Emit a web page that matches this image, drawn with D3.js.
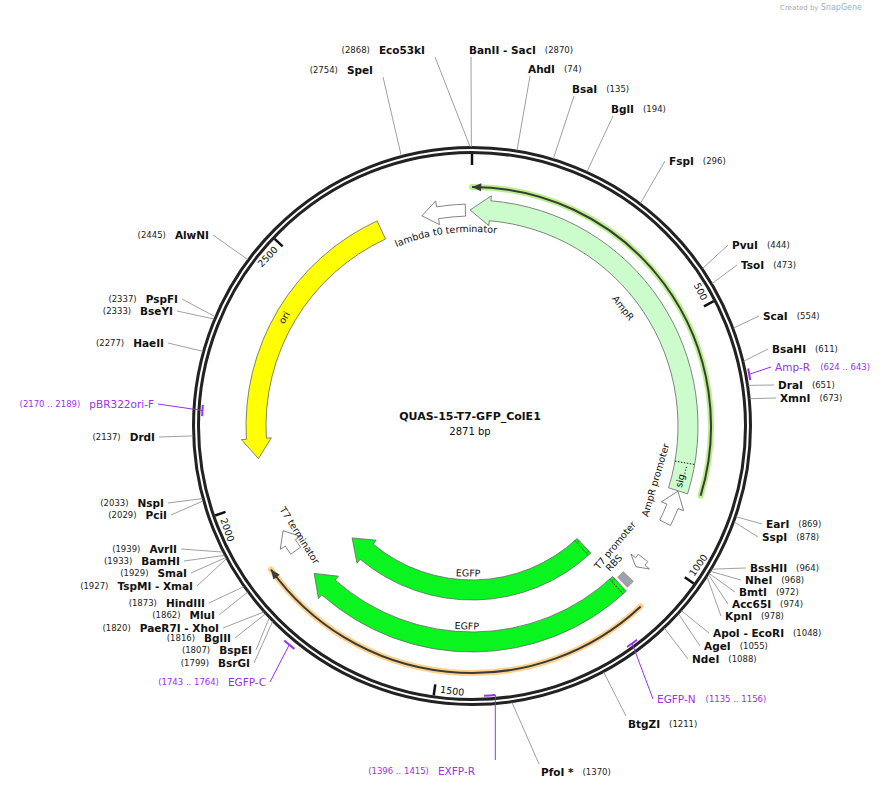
<!DOCTYPE html>
<html><head><meta charset="utf-8">
<script src="https://cdn.jsdelivr.net/npm/d3@7"></script>
<style>body{margin:0;background:#fff}text{font-family:"DejaVu Sans",Verdana,sans-serif}</style>
</head><body>
<svg id="mainsvg" width="895" height="788"></svg>
<script>
const plasmidName = 'QUAS-15-T7-GFP_ColE1'
const totalBp = 2871

// [name, pos, side, x, y]  (x = name start for right side, name end for left side)
const enzymes = [
  ['BanII - SacI', 2870, 'r', 469, 50], ['AhdI', 74, 'r', 528, 69], ['BsaI', 135, 'r', 572, 89],
  ['BglI', 194, 'r', 611, 109], ['FspI', 296, 'r', 669, 161], ['PvuI', 444, 'r', 732, 245],
  ['TsoI', 473, 'r', 741, 265], ['ScaI', 554, 'r', 763, 316], ['BsaHI', 611, 'r', 772, 349],
  ['DraI', 651, 'r', 778, 385], ['XmnI', 673, 'r', 780, 398], ['EarI', 869, 'r', 766, 524],
  ['SspI', 878, 'r', 762, 537], ['BssHII', 964, 'r', 750, 568], ['NheI', 968, 'r', 745, 580],
  ['BmtI', 972, 'r', 739, 592], ['Acc65I', 974, 'r', 732, 604], ['KpnI', 978, 'r', 725, 616],
  ['ApoI - EcoRI', 1048, 'r', 713, 633], ['AgeI', 1055, 'r', 704, 646], ['NdeI', 1088, 'r', 692, 659],
  ['BtgZI', 1211, 'r', 628, 724], ['PfoI *', 1370, 'r', 541, 772],
  ['Eco53kI', 2868, 'l', 425, 50], ['SpeI', 2754, 'l', 373, 70], ['AlwNI', 2445, 'l', 209, 235],
  ['PspFI', 2337, 'l', 178, 299], ['BseYI', 2333, 'l', 173, 311], ['HaeII', 2277, 'l', 164, 343],
  ['DrdI', 2137, 'l', 155, 437], ['NspI', 2033, 'l', 164, 503], ['PciI', 2029, 'l', 167, 515],
  ['AvrII', 1939, 'l', 177, 549], ['BamHI', 1933, 'l', 180, 561], ['SmaI', 1929, 'l', 187, 573],
  ['TspMI - XmaI', 1927, 'l', 193, 586], ['HindIII', 1873, 'l', 205, 603], ['MluI', 1862, 'l', 215, 615],
  ['PaeR7I - XhoI', 1820, 'l', 219, 628], ['BglII', 1816, 'l', 231, 638], ['BspEI', 1807, 'l', 252, 650],
  ['BsrGI', 1799, 'l', 250, 663]
]

// [name, start, end, side, x, y, radius]
const primers = [
  ['Amp-R', 624, 643, 'r', 775, 367, 282],
  ['pBR322ori-F', 2170, 2189, 'l', 154, 404, 270],
  ['EGFP-N', 1135, 1156, 'r', 657, 699, 270],
  ['EGFP-C', 1743, 1764, 'l', 266, 682, 285],
  ['EXFP-R', 1396, 1415, 'l', 475, 771, 270]
]

// [name, start, end, direction, fill, lane]
const features = [
  ['AmpR', 2867, 857, -1, '#ccfccc', 'main'],
  ['ori', 2084, 2673, -1, '#ffff00', 'main'],
  ['EGFP', 1092, 1810, 1, '#0af51f', 'main'],
  ['EGFP', 1092, 1810, 1, '#0af51f', 'inner'],
  ['lambda t0 terminator', 2764, 2857, -1, '#ffffff', 'small'],
  ['AmpR promoter', 858, 930, -1, '#ffffff', 'small'],
  ['T7 promoter', 1018, 1042, 1, '#ffffff', 'small'],
  ['T7 terminator', 1872, 1922, 1, '#ffffff', 'small']
]

const tickValues = [0, 500, 1000, 1500, 2000, 2500]

const cx = 472, cy = 426
const ang = d3.scaleLinear().domain([0, totalBp]).range([0, 360])
const rad = d => (d - 90) * Math.PI / 180
const P = (r, d) => [cx + r * Math.sin(d * Math.PI / 180), cy - r * Math.cos(d * Math.PI / 180)]

const svg = d3.select('#mainsvg')
const g = svg.append('g')

function arrowPath(r, w, p0, p1, dir, hl, hw) {
  let a0 = ang(p0), a1 = ang(p1)
  if (a1 < a0) a1 += 360
  const ri = r - w / 2, ro = r + w / 2
  const hA = Math.min(hl / r * 180 / Math.PI, (a1 - a0) * 0.6)
  const p = d3.path()
  if (dir > 0) {
    p.arc(cx, cy, ro, rad(a0), rad(a1 - hA))
    p.lineTo(...P(ro + hw, a1 - hA)); p.lineTo(...P(r, a1))
    p.lineTo(...P(ri - hw, a1 - hA)); p.lineTo(...P(ri, a1 - hA))
    p.arc(cx, cy, ri, rad(a1 - hA), rad(a0), true)
  } else {
    p.moveTo(...P(r, a0)); p.lineTo(...P(ro + hw, a0 + hA)); p.lineTo(...P(ro, a0 + hA))
    p.arc(cx, cy, ro, rad(a0 + hA), rad(a1))
    p.lineTo(...P(ri, a1))
    p.arc(cx, cy, ri, rad(a1), rad(a0 + hA), true)
    p.lineTo(...P(ri - hw, a0 + hA))
  }
  p.closePath()
  return p.toString()
}

function arcLine(r, p0, p1) {
  let a0 = ang(p0), a1 = ang(p1)
  if (a1 < a0) a1 += 360
  const p = d3.path()
  p.arc(cx, cy, r, rad(a0), rad(a1))
  return p.toString()
}

// tangent text
function tangentText(txt, r, deg, size, fill) {
  let rot = deg % 360
  if (rot > 90 && rot < 270) rot -= 180
  else if (rot >= 270) rot -= 360
  const [x, y] = P(r, deg)
  g.append('text').attr('transform', `translate(${x},${y}) rotate(${rot})`)
    .attr('text-anchor', 'middle').attr('dominant-baseline', 'central')
    .attr('font-size', size).attr('fill', fill || '#111').text(txt)
}

// translation lines with halo
function translation(r, p0, p1, dir, halo) {
  g.append('path').attr('d', arcLine(r, p0, p1)).attr('fill', 'none').attr('stroke', halo).attr('stroke-width', 6).attr('stroke-linecap', 'round')
  g.append('path').attr('d', arcLine(r, p0, p1)).attr('fill', 'none').attr('stroke', '#3a3a3a').attr('stroke-width', 2)
  const tip = dir > 0 ? ang(p1) : ang(p0)
  const back = tip - dir * 2.2
  g.append('path').attr('d', `M${P(r, tip)}L${P(r + 4, back)}L${P(r - 4, back)}Z`).attr('fill', '#3a3a3a')
}
translation(239, 0, 853, -1, '#b8f08a')
translation(247, 1092, 1870, 1, '#ffd28c')

// features
features.forEach(f => {
  let r = 216, w = 20, hl = 20, hw = 5
  if (f[5] === 'inner') r = 164
  if (f[5] === 'small') { w = 12; hl = 16; hw = 6 }
  g.append('path').attr('d', arrowPath(r, w, f[1], f[2], f[3], hl, hw))
    .attr('fill', f[4]).attr('stroke', '#666').attr('stroke-width', 0.8)
})

// signal peptide divider and EGFP start stripes
g.append('path').attr('d', `M${P(206, ang(796))}L${P(226, ang(796))}`).attr('stroke', '#222').attr('stroke-dasharray', '1.5,1.5')
;[164, 216].forEach(r => {
  g.append('path').attr('d', `M${P(r - 10, ang(1101))}L${P(r + 10, ang(1101))}`).attr('stroke', '#222').attr('stroke-dasharray', '1.5,1.5')
  g.append('path').attr('d', arcLine(r + 7, 1093, 1101)).attr('fill', 'none').attr('stroke', '#222').attr('stroke-dasharray', '1,1.5')
  g.append('path').attr('d', arcLine(r - 7, 1093, 1101)).attr('fill', 'none').attr('stroke', '#222').attr('stroke-dasharray', '1,1.5')
})
// RBS box
g.append('path').attr('d', (() => {
  const p = d3.path(), a0 = ang(1068), a1 = ang(1085)
  p.arc(cx, cy, 224, rad(a0), rad(a1)); p.arc(cx, cy, 210, rad(a1), rad(a0), true); p.closePath(); return p.toString()
})()).attr('fill', '#9ea3a8').attr('stroke', '#777').attr('stroke-width', 0.6)

// feature labels
tangentText('AmpR', 192, 52, 9.5)
tangentText('ori', 217, 300, 9.5)
tangentText('sig...', 215, 103.5, 9.5)
tangentText('AmpR promoter', 191, 106.4, 9.5)
tangentText('T7 promoter', 186, 129.8, 9.5)
tangentText('RBS', 197, 134, 9.5)
tangentText('T7 terminator', 204, 237.6, 9.5)
tangentText('EGFP', 147, 181.5, 9.5)
tangentText('EGFP', 200, 181.5, 9.5)
g.append('path').attr('id', 'lamPath').attr('fill', 'none')
  .attr('d', (() => { const p = d3.path(); p.arc(cx, cy, 194, rad(-45), rad(30)); return p.toString() })())
g.append('text').attr('font-size', 9.5).attr('fill', '#111')
  .append('textPath').attr('href', '#lamPath').attr('startOffset', `${(45 - 7.8) / 75 * 100}%`)
  .attr('text-anchor', 'middle').text('lambda t0 terminator')

// backbone ring
;[278.5, 273.5].forEach(r => g.append('circle').attr('cx', cx).attr('cy', cy).attr('r', r)
  .attr('fill', 'none').attr('stroke', '#222').attr('stroke-width', 3))

// ticks
tickValues.forEach(t => {
  const a = ang(t)
  g.append('path').attr('d', `M${P(261, a)}L${P(272, a)}`).attr('stroke', '#111').attr('stroke-width', 2.5)
  if (t === 0) return
  let rot = a, anchor = 'end'
  if (a > 90 && a < 270) { rot = a - 180; anchor = 'start' } else if (a >= 270) rot = a - 360
  const [x, y] = P(265, a - 1.2)
  g.append('text').attr('transform', `translate(${x},${y}) rotate(${rot})`)
    .attr('text-anchor', anchor).attr('dominant-baseline', 'central')
    .attr('font-size', 9.5).attr('fill', '#111').text(t)
})

function anchorPt(side, x, y) {
  if (y < 120) return [side === 'r' ? x + 2 : x + 10, y + 7]
  if (y > 715) return [side === 'r' ? x - 2 : x + 8, y - 8]
  return [side === 'r' ? x - 4 : x + 4, y]
}

// enzyme sites
enzymes.forEach(e => {
  const a = ang(e[1])
  const [ax, ay] = anchorPt(e[2], e[3], e[4])
  g.append('path').attr('d', `M${P(279, a)}L${ax},${ay}`).attr('stroke', '#888').attr('stroke-width', 0.8).attr('fill', 'none')
  const t = g.append('text').attr('x', e[3]).attr('y', e[4]).attr('dominant-baseline', 'central')
    .attr('text-anchor', e[2] === 'r' ? 'start' : 'end')
  if (e[2] === 'r') {
    t.append('tspan').attr('font-weight', 'bold').attr('font-size', 10.5).attr('fill', '#111').text(e[0])
    t.append('tspan').attr('dx', 9).attr('font-size', 8.5).attr('fill', '#222').text(`(${e[1]})`)
  } else {
    t.append('tspan').attr('font-size', 8.5).attr('fill', '#222').text(`(${e[1]})`)
    t.append('tspan').attr('dx', 9).attr('font-weight', 'bold').attr('font-size', 10.5).attr('fill', '#111').text(e[0])
  }
})

// primers
primers.forEach(p => {
  const r = p[6]
  g.append('path').attr('d', arcLine(r, p[1], p[2])).attr('fill', 'none').attr('stroke', '#9b30e8').attr('stroke-width', 2)
  const mid = ang((p[1] + p[2]) / 2)
  const [ax, ay] = anchorPt(p[3], p[4], p[5])
  let d = `M${P(r, mid)}L${ax},${ay}`
  if (p[0] === 'EXFP-R') d = `M${P(r, ang(p[1]))}L${P(r, ang(p[1]))[0]},760`
  g.append('path').attr('d', d).attr('stroke', '#9b30e8').attr('stroke-width', 1).attr('fill', 'none')
  const t = g.append('text').attr('x', p[4]).attr('y', p[5]).attr('dominant-baseline', 'central')
    .attr('text-anchor', p[3] === 'r' ? 'start' : 'end').attr('fill', '#9b30e8')
  if (p[3] === 'r') {
    t.append('tspan').attr('font-size', 10.5).text(p[0])
    t.append('tspan').attr('dx', 10).attr('font-size', 8.5).text(`(${p[1]} .. ${p[2]})`)
  } else {
    t.append('tspan').attr('font-size', 8.5).text(`(${p[1]} .. ${p[2]})`)
    t.append('tspan').attr('dx', 9).attr('font-size', 10.5).text(p[0])
  }
})

// center title
g.append('text').attr('x', cx - 2).attr('y', 420).attr('text-anchor', 'middle').attr('font-weight', 'bold')
  .attr('font-size', 11).attr('fill', '#111').text(plasmidName)
g.append('text').attr('x', cx - 2).attr('y', 435).attr('text-anchor', 'middle')
  .attr('font-size', 10).attr('fill', '#111').text(`${totalBp} bp`)

// watermark
const wm = svg.append('text').attr('x', 862).attr('y', 10).attr('text-anchor', 'end').attr('font-size', 7)
wm.append('tspan').attr('fill', '#aaa').text('Created by ')
wm.append('tspan').attr('fill', '#8fb4cf').attr('font-size', 8).text('SnapGene')
</script>
</body></html>
